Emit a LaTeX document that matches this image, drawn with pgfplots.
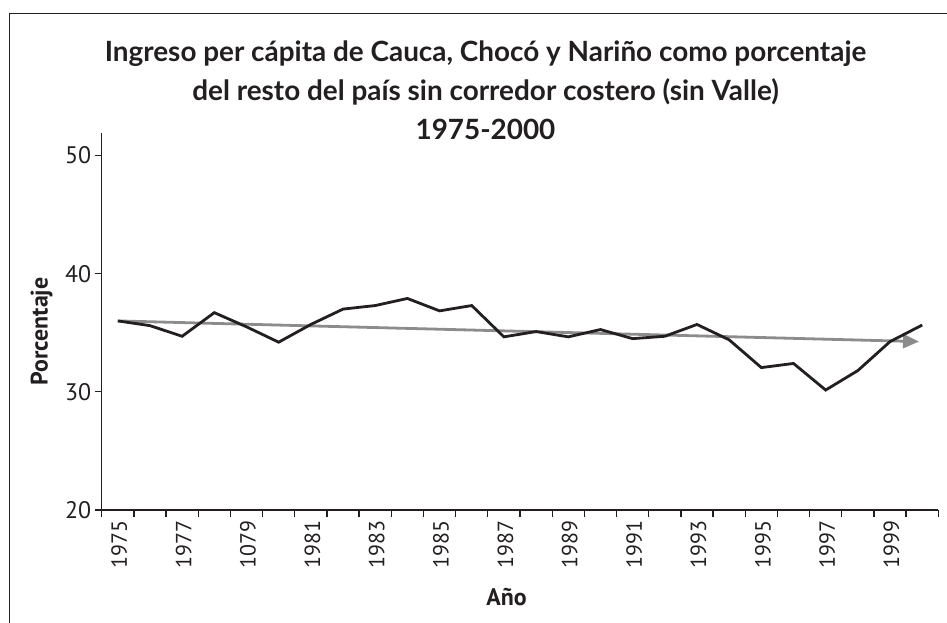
\documentclass[border=0pt]{standalone}
\usepackage{pgfplots}
\pgfplotsset{compat=1.18}
\usepackage{fontspec}
\setmainfont{PT Sans}
\newfontfamily\titlefont{Lato}
\usetikzlibrary{arrows.meta}
\definecolor{ink}{RGB}{35,31,32}
\definecolor{trend}{RGB}{140,140,140}
\begin{document}
\begin{tikzpicture}
\path[use as bounding box] (0,0) rectangle (947bp,-623bp);
\draw[ink, line width=1.5bp] (9.5bp,-626bp) -- (9.5bp,-13.3bp) -- (950bp,-13.3bp);
\node[anchor=base, font=\titlefont\bfseries\fontsize{28}{34}\selectfont, text=ink, inner sep=0] at (485.5bp,-61.7bp) {Ingreso per cápita de Cauca, Chocó y Nariño como porcentaje};
\node[anchor=base, font=\titlefont\bfseries\fontsize{28}{34}\selectfont, text=ink, inner sep=0] at (485.5bp,-100.3bp) {del resto del país sin corredor costero (sin Valle)};
\node[anchor=base, font=\titlefont\bfseries\fontsize{28}{34}\selectfont, text=ink, inner sep=0] at (485.5bp,-139.3bp) {1975-2000};
\node[anchor=base, font=\bfseries\fontsize{24}{28}\selectfont, text=ink, inner sep=0] at (506.6bp,-605bp) {Año};
\node[rotate=90, anchor=center, font=\bfseries\fontsize{24}{28}\selectfont, text=ink, inner sep=0] at (41.7bp,-331.5bp) {Porcentaje};
\begin{axis}[
  at={(101.7bp,-510bp)}, anchor=south west,
  scale only axis, width=836.6bp, height=377bp,
  xmin=-0.5, xmax=25.5, ymin=20, ymax=51.9,
  axis lines=left,
  axis line style={ink, line width=1.4bp, -},
  tick align=outside,
  major tick length=7bp,
  tick style={ink, line width=1.3bp},
  ytick={20,30,40,50},
  /pgf/number format/assume math mode=true,
  yticklabel style={font=\fontsize{24}{28}\selectfont, text=ink},
  xtick={-0.5,0.5,...,25.5},
  xticklabel={\relax},
  extra x ticks={0,2,...,24},
  extra x tick labels={1975,1977,1079,1981,1983,1985,1987,1989,1991,1993,1995,1997,1999},
  extra x tick style={major tick length=0pt, tick label style={font=\fontsize{22}{26}\selectfont, text=ink, xshift=1.5bp, yshift=-7bp, rotate=90, anchor=east}},
  clip=false,
]
\addplot[trend, line width=2.8bp, -{Triangle[length=16bp,width=14bp]}] coordinates {(0,36.0) (24.9,34.25)};
\addplot[ink, line width=2.8bp] coordinates {
(0,36.0) (1,35.6) (2,34.7) (3,36.7) (4,35.5) (5,34.2) (6,35.7) (7,37.0) (8,37.3) (9,37.9)
(10,36.85) (11,37.3) (12,34.65) (13,35.1) (14,34.65) (15,35.27) (16,34.5) (17,34.7) (18,35.7) (19,34.4)
(20,32.05) (21,32.4) (22,30.15) (23,31.8) (24,34.25) (25,35.65)
};
\end{axis}
\end{tikzpicture}
\end{document}
